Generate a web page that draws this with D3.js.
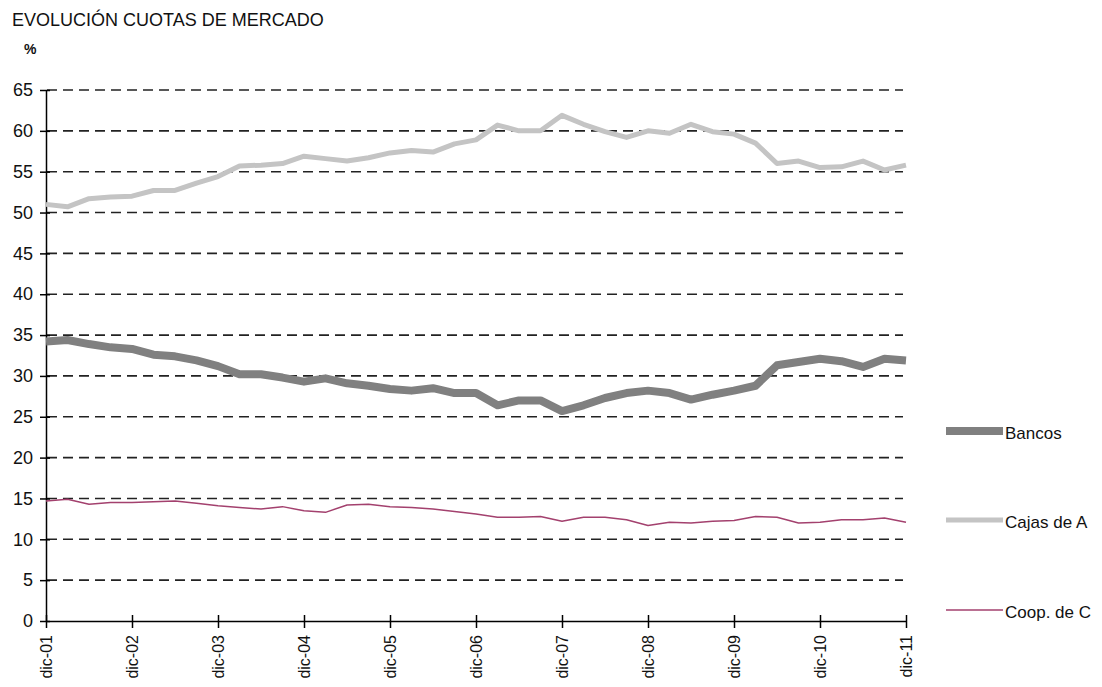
<!DOCTYPE html>
<html lang="es">
<head>
    <meta charset="UTF-8">
    <title>Evolución cuotas de mercado</title>
    <script src="https://d3js.org/d3.v7.min.js"></script>
    <style>
        body { margin: 0; background: #fff; }
        svg { display: block; }
        text { font-family: "Liberation Sans", Arial, sans-serif; fill: #111; }
        .grid line { stroke: #222; stroke-width: 1.6; stroke-dasharray: 10,6; }
    </style>
</head>
<body>
    <script>
        // quarterly, dic-01 .. dic-11
        const yearLabels = ["dic-01","dic-02","dic-03","dic-04","dic-05","dic-06","dic-07","dic-08","dic-09","dic-10","dic-11"];
        const yTicks = [0,5,10,15,20,25,30,35,40,45,50,55,60,65];

        const bancos = [34.2,34.4,33.9,33.5,33.3,32.6,32.4,31.9,31.2,30.2,30.2,29.8,29.3,29.7,29.1,28.8,28.4,28.2,28.5,27.9,
                        27.9,26.4,27.0,27.0,25.7,26.4,27.3,27.9,28.2,27.9,27.1,27.7,28.2,28.8,31.3,31.7,32.1,31.8,31.1,32.1,31.9];
        const cajas = [51.0,50.7,51.7,51.9,52.0,52.7,52.7,53.6,54.4,55.7,55.8,56.0,56.9,56.6,56.3,56.7,57.3,57.6,57.4,58.4,
                       58.9,60.7,60.0,60.0,61.9,60.8,59.9,59.2,60.0,59.7,60.8,59.9,59.6,58.5,56.0,56.3,55.5,55.6,56.3,55.2,55.8];
        const coop = [14.7,14.9,14.3,14.5,14.5,14.6,14.7,14.4,14.1,13.9,13.7,14.0,13.5,13.3,14.2,14.3,14.0,13.9,13.7,13.4,
                      13.1,12.7,12.7,12.8,12.2,12.7,12.7,12.4,11.7,12.1,12.0,12.2,12.3,12.8,12.7,12.0,12.1,12.4,12.4,12.6,12.1];

        // legend names as they show in the (cropped) original
        const series = [
            { name: "Bancos", values: bancos, color: "#808080", width: 8, legendY: 431 },
            { name: "Cajas de A", values: cajas, color: "#c4c4c4", width: 5, legendY: 520 },
            { name: "Coop. de C", values: coop, color: "#a3416e", width: 1.5, legendY: 610 }
        ];

        const W = 1102, H = 687;
        const svg = d3.select("body").append("svg").attr("width", W).attr("height", H);

        const x = d3.scaleLinear().domain([0, 40]).range([46, 906]);
        const y = d3.scaleLinear().domain([0, 65]).range([621, 90]);

        svg.append("text").attr("x", 12).attr("y", 26)
            .style("font-size", "18px").text("EVOLUCIÓN CUOTAS DE MERCADO");
        svg.append("text").attr("x", 24).attr("y", 54)
            .style("font-size", "14px").style("font-weight", "bold").text("%");

        // dashed gridlines
        svg.append("g").attr("class", "grid")
            .selectAll("line")
            .data(yTicks.filter(d => d > 0))
            .enter().append("line")
            .attr("x1", 47).attr("x2", 903)
            .attr("y1", d => y(d)).attr("y2", d => y(d));

        // y axis
        const yAxis = svg.append("g").attr("transform", "translate(46,0)")
            .call(d3.axisLeft(y).tickValues(yTicks).tickSize(6).tickSizeOuter(0));
        yAxis.selectAll(".tick line").attr("x2", 4).attr("x1", -6);
        yAxis.selectAll("text").attr("x", -13).style("font-size", "18px")
            .style("font-family", "'Liberation Sans', Arial, sans-serif").attr("fill", "#111");
        yAxis.select(".domain").attr("stroke", "#000").attr("stroke-width", 1.5);
        yAxis.selectAll(".tick line").attr("stroke", "#000").attr("stroke-width", 1.5);

        // x axis
        const xAxis = svg.append("g").attr("transform", `translate(0,${y(0)})`)
            .call(d3.axisBottom(x).tickValues(d3.range(0, 41, 4)).tickFormat((d, i) => yearLabels[i]).tickSizeOuter(0));
        xAxis.select(".domain").attr("stroke", "#000").attr("stroke-width", 1.5);
        xAxis.selectAll(".tick line").attr("y1", -6).attr("y2", 7).attr("stroke", "#000").attr("stroke-width", 1.5);
        xAxis.selectAll("text")
            .attr("transform", "rotate(-90)")
            .attr("text-anchor", "end")
            .attr("x", -14).attr("y", 0).attr("dy", "0.35em")
            .style("font-size", "16px")
            .style("font-family", "'Liberation Sans', Arial, sans-serif").attr("fill", "#111");

        const line = d3.line().x((d, i) => x(i)).y(d => y(d));

        svg.append("g").selectAll("path")
            .data(series)
            .enter().append("path")
            .attr("d", d => line(d.values))
            .attr("fill", "none")
            .attr("stroke", d => d.color)
            .attr("stroke-width", d => d.width)
            .attr("stroke-linejoin", "round");

        // legend
        const leg = svg.append("g").selectAll("g")
            .data(series)
            .enter().append("g");
        leg.append("line")
            .attr("x1", 946).attr("x2", 1003)
            .attr("y1", d => d.legendY).attr("y2", d => d.legendY)
            .attr("stroke", d => d.color)
            .attr("stroke-width", d => d.width);
        leg.append("text")
            .attr("x", 1005).attr("y", d => d.legendY + 8)
            .style("font-size", "17px")
            .text(d => d.name);
    </script>
</body>
</html>
